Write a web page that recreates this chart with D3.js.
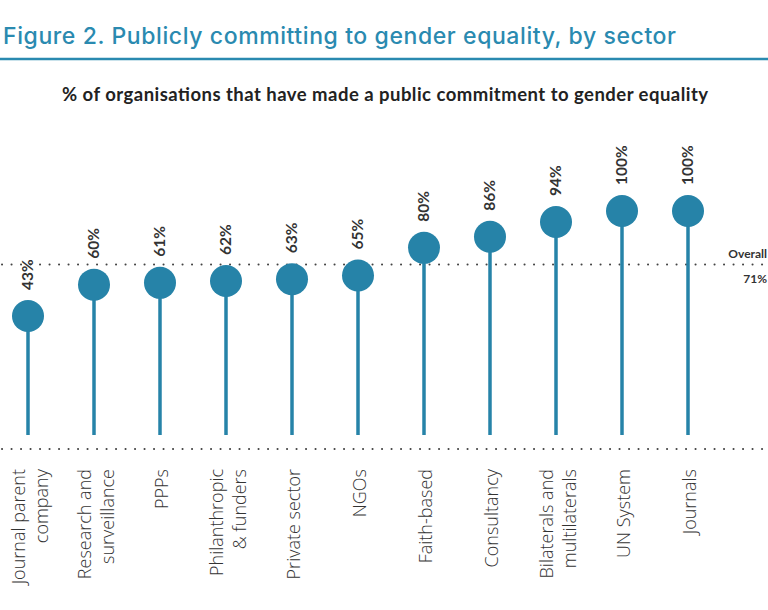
<!DOCTYPE html>
<html><head><meta charset="utf-8">
<script src="https://cdn.jsdelivr.net/npm/d3@7"></script>
<style>body{margin:0;background:#fff}svg{display:block}</style>
</head><body><div id="chart"></div>
<script>
const categories = [["Journal parent","company"],["Research and","surveillance"],["PPPs"],["Philanthropic","& funders"],["Private sector"],["NGOs"],["Faith-based"],["Consultancy"],["Bilaterals and","multilaterals"],["UN System"],["Journals"]];
const values = [43,60,61,62,63,65,80,86,94,100,100];
const overall = 71;
const title = "Figure 2. Publicly committing to gender equality, by sector";
const subtitle = "% of organisations that have made a public commitment to gender equality";

const W=768,H=610, teal="#2683a8";
const svg=d3.select("#chart").append("svg").attr("width",W).attr("height",H);
const font="Lato, 'Open Sans', sans-serif";
const lightFont="'Open Sans', Lato, sans-serif";

svg.append("text").attr("x",3).attr("y",44).text(title)
  .attr("font-family","Inter, sans-serif").attr("font-size",23).attr("font-weight",500).attr("fill","#2a8ab0")
  .attr("textLength",673).attr("lengthAdjust","spacing");
svg.append("line").attr("x1",0).attr("x2",W).attr("y1",59).attr("y2",59).attr("stroke","#2a8ab0").attr("stroke-width",2.5);
svg.append("text").attr("x",62).attr("y",101).text(subtitle)
  .attr("font-family",font).attr("font-size",18.5).attr("font-weight",700).attr("fill","#222")
  .attr("textLength",646).attr("lengthAdjust","spacing");

const x=d3.scalePoint().domain(d3.range(values.length)).range([28,688]);
const y=d3.scaleLinear().domain([43,100]).range([316,211]);
const baseY=449, stemEnd=435;

const dot=(yy)=>svg.append("line").attr("x1",2).attr("x2",W).attr("y1",yy).attr("y2",yy)
  .attr("stroke","#444").attr("stroke-width",2).attr("stroke-dasharray","0.1 9.4").attr("stroke-linecap","round");
dot(baseY);
const oy=y(overall);
dot(oy);
svg.append("text").attr("x",767).attr("y",oy-6).attr("text-anchor","end").text("Overall")
  .attr("font-family",font).attr("font-size",12).attr("font-weight",700).attr("fill","#333");
svg.append("text").attr("x",767).attr("y",oy+19).attr("text-anchor","end").text(overall+"%")
  .attr("font-family",font).attr("font-size",12).attr("font-weight",700).attr("fill","#333");

const g=svg.append("g");
values.forEach((v,i)=>{
  const cx=x(i), cy=y(v);
  g.append("line").attr("x1",cx).attr("x2",cx).attr("y1",cy).attr("y2",stemEnd).attr("stroke",teal).attr("stroke-width",3.5);
  g.append("circle").attr("cx",cx).attr("cy",cy).attr("r",16).attr("fill",teal);
  g.append("text").attr("transform",`translate(${cx+5},${cy-26}) rotate(-90)`)
    .text(v+"%").attr("font-family",font).attr("font-size",15.5).attr("font-weight",700).attr("fill","#333");
  const lines=categories[i];
  lines.forEach((ln,j)=>{
    const off=(j-(lines.length-1)/2)*23;
    g.append("text").attr("transform",`translate(${cx+off+8},${469}) rotate(-90)`)
      .attr("text-anchor","end").text(ln)
      .attr("font-family",lightFont).attr("font-size",18).attr("font-weight",300).attr("fill","#333");
  });
});
</script></body></html>
